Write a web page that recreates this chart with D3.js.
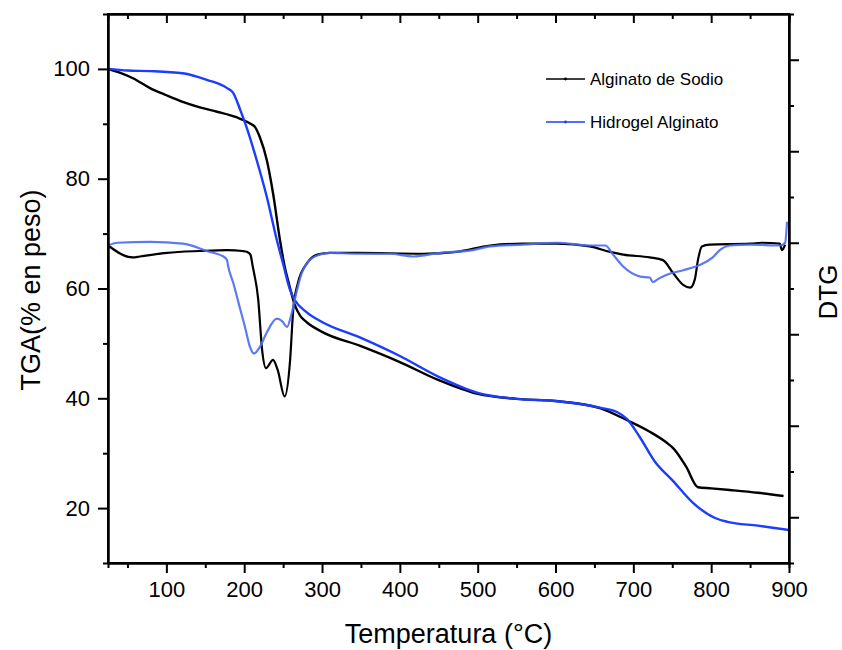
<!DOCTYPE html>
<html>
<head>
<meta charset="utf-8">
<script src="https://cdn.jsdelivr.net/npm/d3@7"></script>
<style>
  body { margin: 0; background: #fff; }
  text { font-family: Arial, "Liberation Sans", sans-serif; fill: #000; }
</style>
</head>
<body>
<svg id="grafico"></svg>
<script>
// TGA (% en peso) - Alginato de Sodio
var tempTgaSodio = [25, 40, 57, 79, 100, 121, 143, 165, 190, 207, 214, 220, 229, 237, 246, 252, 258, 265, 272, 280, 300, 350, 400, 450, 500, 550, 600, 657, 692, 720, 743, 752, 768, 783, 800, 824, 860, 893]
var tgaSodio     = [100, 99.3, 98.3, 96.5, 95.2, 94.0, 93.0, 92.2, 91.2, 90.1, 89.4, 87.6, 83.4, 77.4, 68.8, 64.0, 60.6, 57.0, 55.0, 53.9, 52.1, 49.5, 46.6, 43.3, 40.8, 39.9, 39.5, 38.2, 36.0, 34.0, 31.9, 30.8, 27.5, 23.8, 23.6, 23.3, 22.8, 22.2]

// TGA (% en peso) - Hidrogel Alginato
var tempTgaHidrogel = [25, 50, 79, 121, 152, 178, 186, 195, 203, 216, 229, 242, 250, 259, 265, 280, 300, 350, 400, 450, 500, 550, 600, 657, 679, 692, 708, 728, 750, 777, 805, 821, 860, 900]
var tgaHidrogel     = [100, 99.7, 99.6, 99.2, 98.0, 96.5, 95.6, 92.5, 89.4, 83.4, 76.7, 68.8, 64.5, 59.7, 57.9, 55.7, 53.9, 51.0, 47.7, 43.9, 41.0, 39.9, 39.5, 38.3, 37.5, 36.2, 33.0, 28.4, 25.1, 20.9, 18.2, 17.5, 16.8, 16.0]

// DTG (eje derecho, sin etiquetas) - Alginato de Sodio
var tempDtgSodio = [25, 57, 66, 101, 143, 178, 198, 204, 208, 211, 218, 223, 228, 237, 243, 252, 259, 263, 269, 281, 294, 310, 345, 430, 473, 516, 558, 602, 644, 670, 687, 721, 738, 751, 764, 773, 779, 783, 788, 798, 850, 865, 888, 891, 895]
var dtgSodio     = [-0.003, -0.016, -0.015, -0.011, -0.009, -0.008, -0.009, -0.010, -0.013, -0.026, -0.062, -0.117, -0.137, -0.128, -0.139, -0.168, -0.128, -0.073, -0.044, -0.022, -0.013, -0.011, -0.011, -0.012, -0.010, -0.003, -0.001, -0.001, -0.004, -0.010, -0.013, -0.016, -0.019, -0.033, -0.046, -0.049, -0.040, -0.019, -0.004, -0.002, -0.001, 0.000, -0.001, -0.008, -0.002]

// DTG - Hidrogel Alginato
var tempDtgHidrogel = [25, 37, 79, 121, 156, 160, 173, 178, 179, 186, 195, 201, 207.5, 212.6, 220, 229, 242, 249, 255, 261, 268, 274, 282, 297, 310, 345, 387, 417, 452, 494, 516, 558, 602, 644, 664, 674, 687, 709, 721, 725, 731, 743, 764, 786, 802, 811, 824, 850, 889, 895, 897.5]
var dtgHidrogel     = [-0.003, 0.000, 0.001, -0.001, -0.010, -0.011, -0.015, -0.019, -0.024, -0.044, -0.073, -0.092, -0.114, -0.121, -0.114, -0.098, -0.083, -0.086, -0.092, -0.077, -0.051, -0.033, -0.021, -0.013, -0.011, -0.012, -0.012, -0.015, -0.011, -0.008, -0.004, -0.002, 0.000, -0.003, -0.003, -0.013, -0.026, -0.037, -0.038, -0.043, -0.040, -0.035, -0.030, -0.024, -0.016, -0.008, -0.003, -0.002, -0.003, 0.000, 0.023]

var xTicks = [100, 200, 300, 400, 500, 600, 700, 800, 900]
var yTicks = [20, 40, 60, 80, 100]

var width = 842,
    height = 650,
    margin = {top: 14, right: 53, bottom: 87, left: 108}

var x = d3.scaleLinear().domain([25, 900]).range([margin.left, width - margin.right])
var y = d3.scaleLinear().domain([10, 110]).range([height - margin.bottom, margin.top])
var yDtg = d3.scaleLinear().domain([-0.35, 0.25]).range([height - margin.bottom, margin.top])

var svg = d3.select("#grafico").attr("width", width).attr("height", height)

function pares(xs, ys) {
    return xs.map(function(t, i) { return [t, ys[i]] })
}

function desenhaCurva(dados, escalaY, cor, largura, opac) {
    var linha = d3.line()
        .x(function(d) { return x(d[0]) })
        .y(function(d) { return escalaY(d[1]) })
        .curve(d3.curveMonotoneX)
    svg.append("path")
        .datum(dados)
        .attr("fill", "none")
        .attr("stroke", cor)
        .attr("stroke-width", largura)
        .attr("stroke-opacity", opac || 1)
        .attr("stroke-linejoin", "round")
        .attr("d", linha)
}

// curvas
desenhaCurva(pares(tempTgaSodio, tgaSodio), y, "#000", 2.4)
desenhaCurva(pares(tempDtgSodio, dtgSodio), yDtg, "#000", 2.2)
desenhaCurva(pares(tempTgaHidrogel, tgaHidrogel), y, "#1c3cff", 2.4)
desenhaCurva(pares(tempDtgHidrogel, dtgHidrogel), yDtg, "#4a6cf2", 2.2, 0.9)

// eixos
var xMinor = d3.range(50, 900, 100)
var bottom = svg.append("g").attr("transform", "translate(0," + y.range()[0] + ")")
bottom.call(d3.axisBottom(x).tickValues(xTicks).tickSize(10).tickSizeOuter(0).tickPadding(8))
bottom.append("g").call(d3.axisBottom(x).tickValues(xMinor).tickSize(5).tickFormat(""))

var top_ = svg.append("g").attr("transform", "translate(0," + margin.top + ")")
top_.call(d3.axisBottom(x).tickValues(xTicks).tickSize(9).tickSizeOuter(0).tickFormat(""))
top_.append("g").call(d3.axisBottom(x).tickValues(xMinor).tickSize(5).tickFormat(""))

var left = svg.append("g").attr("transform", "translate(" + margin.left + ",0)")
left.call(d3.axisLeft(y).tickValues(yTicks).tickSize(10).tickSizeOuter(0).tickPadding(8))
left.append("g").call(d3.axisLeft(y).tickValues([30, 50, 70, 90]).tickSize(5).tickFormat(""))

var right = svg.append("g").attr("transform", "translate(" + x.range()[1] + ",0)")
right.call(d3.axisRight(yDtg).tickValues([-0.3, -0.2, -0.1, 0, 0.1, 0.2]).tickSize(10).tickSizeOuter(0).tickFormat(""))
right.append("g").call(d3.axisRight(yDtg).tickValues([-0.25, -0.15, -0.05, 0.05, 0.15]).tickSize(5).tickFormat(""))

svg.selectAll(".domain").attr("stroke", "#000").attr("stroke-width", 2)
svg.selectAll(".tick line").attr("stroke", "#000").attr("stroke-width", 2)
svg.selectAll(".tick text").style("font-size", "22px").attr("fill", "#000")

// moldura
svg.append("rect")
    .attr("x", margin.left).attr("y", margin.top)
    .attr("width", width - margin.left - margin.right)
    .attr("height", height - margin.top - margin.bottom)
    .attr("fill", "none").attr("stroke", "#000").attr("stroke-width", 2)

// titulos
svg.append("text")
    .attr("x", (x.range()[0] + x.range()[1]) / 2).attr("y", 643)
    .attr("text-anchor", "middle").style("font-size", "27px")
    .text("Temperatura (°C)")
svg.append("text")
    .attr("transform", "translate(40," + 290 + ") rotate(-90)")
    .attr("text-anchor", "middle").style("font-size", "27px")
    .text("TGA(% en peso)")
svg.append("text")
    .attr("transform", "translate(837," + 292 + ") rotate(-90)")
    .attr("text-anchor", "middle").style("font-size", "26px")
    .text("DTG")

// legenda
var legenda = [
    {nome: "Alginato de Sodio", cor: "#000", y: 79},
    {nome: "Hidrogel Alginato", cor: "#1c3cff", y: 122}
]
var leg = svg.selectAll(".leg").data(legenda).enter().append("g").attr("class", "leg")
leg.append("line")
    .attr("x1", 546).attr("x2", 585)
    .attr("y1", function(d) { return d.y }).attr("y2", function(d) { return d.y })
    .attr("stroke", function(d) { return d.cor }).attr("stroke-width", 1.6)
leg.append("circle")
    .attr("cx", 565.5).attr("cy", function(d) { return d.y }).attr("r", 1.4)
    .attr("fill", function(d) { return d.cor })
leg.append("text")
    .attr("x", 590).attr("y", function(d) { return d.y + 6 })
    .style("font-size", "17px")
    .text(function(d) { return d.nome })
</script>
</body>
</html>
